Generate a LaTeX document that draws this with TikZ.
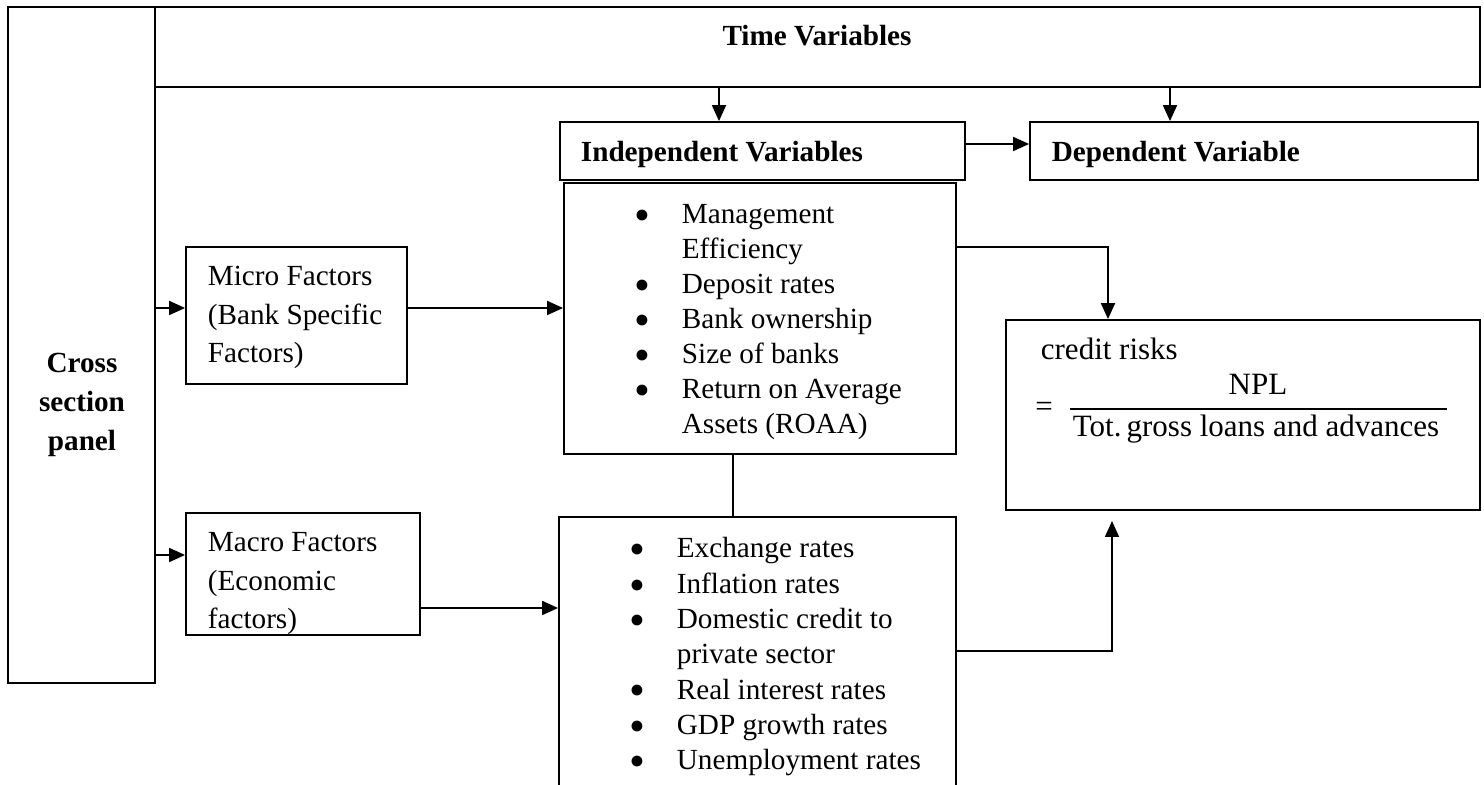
\documentclass[tikz,border=0pt]{standalone}
\usepackage{fontspec}
\setmainfont{Liberation Serif}
\usetikzlibrary{arrows.meta,fit}
\newcommand{\bigbul}{\smash{\raisebox{-3.4pt}{\scalebox{1.55}{\textbullet}}}}
\begin{document}
\begin{tikzpicture}[x=0.5pt,y=-0.5pt,line width=0.9pt,
  box/.style={draw,inner sep=0pt,fit={#1}},
  arr/.style={-{Triangle[length=8pt,width=7pt]}},
  txt/.style={inner sep=0pt,font=\fontsize{14.6}{17.5}\selectfont},
  ftxt/.style={inner sep=0pt,font=\fontsize{15.5}{18}\selectfont}]
\useasboundingbox (0,0) rectangle (1484,785);
\clip (0,0) rectangle (1484,785);
% boxes
\node[box={(8,7) (155,683)}] (cross) {};
\node[box={(155,7) (1480,87)}] (time) {};
\node[box={(560,122) (965,180)}] (indep) {};
\node[box={(1030,122) (1478,180)}] (dep) {};
\node[box={(186,247) (407,384)}] (micro) {};
\node[box={(186,513) (420,635)}] (macro) {};
\node[box={(564,183) (956,454)}] (mgmt) {};
\node[box={(559,517) (956,830)}] (econ) {};
\node[box={(1006,320) (1480,510)}] (credit) {};
% texts
\node[txt,anchor=base] (timeT) at (817,46) {\textbf{Time Variables}};
\node[txt,anchor=base west] (indepT) at (580,162) {\textbf{Independent Variables}};
\node[txt,anchor=base west] (depT) at (1051,162) {\textbf{Dependent Variable}};
\node[txt,anchor=base,font=\fontsize{14.6}{19.5}\selectfont] (crossT) at (82,373)
  {\begin{tabular}[t]{@{}c@{}}\textbf{Cross}\\\textbf{section}\\\textbf{panel}\end{tabular}};
\node[txt,anchor=base west,font=\fontsize{14.6}{19.25}\selectfont] (microT) at (207,286)
  {\begin{tabular}[t]{@{}l@{}}Micro Factors\\(Bank Specific\\Factors)\end{tabular}};
\node[txt,anchor=base west,font=\fontsize{14.6}{19.25}\selectfont] (macroT) at (207,552)
  {\begin{tabular}[t]{@{}l@{}}Macro Factors\\(Economic\\factors)\end{tabular}};
\node[txt,anchor=base west] (mgmtT) at (634,224)
  {\begin{tabular}[t]{@{}p{23.5pt}@{}l@{}}
   \bigbul & Management\\
               & Efficiency\\
   \bigbul & Deposit rates\\
   \bigbul & Bank ownership\\
   \bigbul & Size of banks\\
   \bigbul & Return on Average\\
               & Assets (ROAA)
  \end{tabular}};
\node[txt,anchor=base west,font=\fontsize{14.6}{17.65}\selectfont] (econT) at (629,558)
  {\begin{tabular}[t]{@{}p{23.5pt}@{}l@{}}
   \bigbul & Exchange rates\\
   \bigbul & Inflation rates\\
   \bigbul & Domestic credit to\\
               & private sector\\
   \bigbul & Real interest rates\\
   \bigbul & GDP growth rates\\
   \bigbul & Unemployment rates
  \end{tabular}};
\node[ftxt,anchor=base west] (crT) at (1040,360) {credit risks};
\node[ftxt] (eqT) at (1044,409) {=};
\node[ftxt,anchor=base] (numT) at (1258,395) {NPL};
\node[ftxt,anchor=base] (denT) at (1256,437) {Tot.\,gross loans and advances};
\draw[line width=0.8pt] (1070,409) -- (1447,409);
% helper coordinates
\coordinate (xa) at (719,0);
\coordinate (xb) at (1170,0);
\coordinate (yc) at (0,144);
\coordinate (yd) at (0,308);
\coordinate (ye) at (0,555);
\coordinate (yf) at (0,608);
\coordinate (yg) at (0,247);
\coordinate (xh) at (1108,0);
\coordinate (xi) at (733,0);
\coordinate (yj) at (0,651);
\coordinate (cr) at (1112,521);
% connectors
\draw[arr] (time.south -| xa) -- (indep.north -| xa);
\draw[arr] (time.south -| xb) -- (dep.north -| xb);
\draw[arr] (indep.east |- yc) -- (dep.west |- yc);
\draw[arr] (cross.east |- yd) -- (micro.west |- yd);
\draw[arr] (cross.east |- ye) -- (macro.west |- ye);
\draw[arr] (micro.east |- yd) -- (mgmt.west |- yd);
\draw[arr] (macro.east |- yf) -- (econ.west |- yf);
\draw[arr] (mgmt.east |- yg) -| (credit.north -| xh);
\draw (mgmt.south -| xi) -- (econ.north -| xi);
\draw[arr] (econ.east |- yj) -| (cr);
\end{tikzpicture}
\end{document}
